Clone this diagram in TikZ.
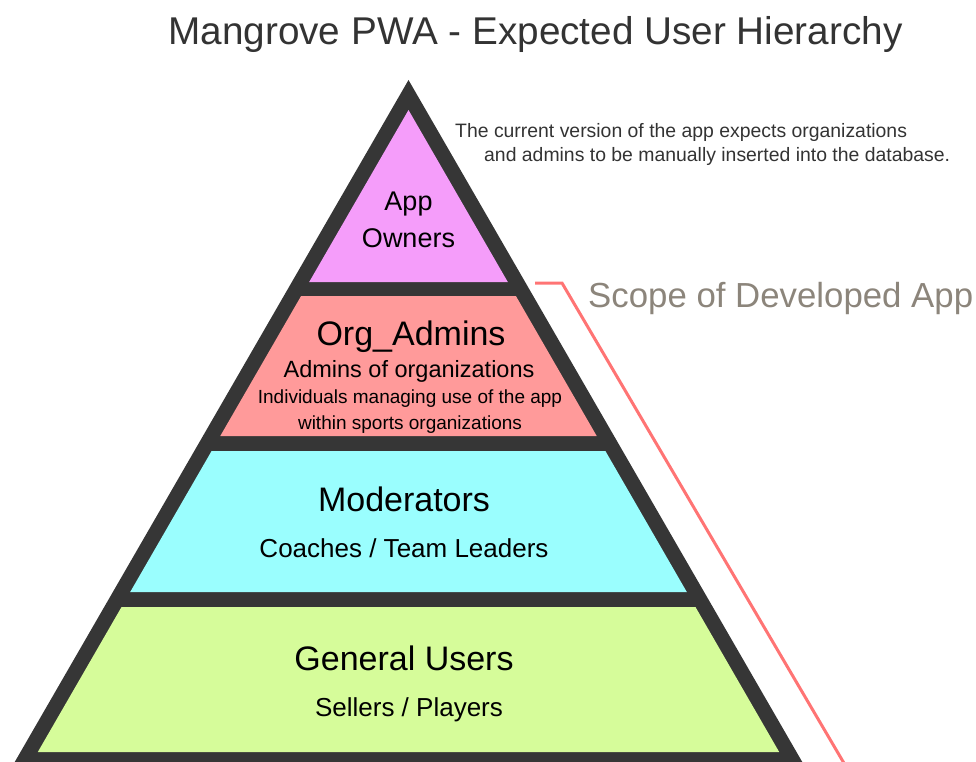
\documentclass[tikz,border=0pt]{standalone}
\usepackage{fontspec}
\setmainfont{Liberation Sans}
\usepackage{tikz}

\definecolor{frame}{HTML}{363636}
\definecolor{ownerpink}{HTML}{F59DFA}
\definecolor{adminred}{HTML}{FF9A9A}
\definecolor{modcyan}{HTML}{9AFEFE}
\definecolor{usergreen}{HTML}{D6FC9A}
\definecolor{scopered}{HTML}{FF7474}
\definecolor{scopegray}{HTML}{8C857B}
\definecolor{notegray}{HTML}{333333}

\tikzset{
  tiername/.style={anchor=base,font=\fontsize{34}{40}\selectfont},
  tiersub/.style={anchor=base,font=\fontsize{26}{30}\selectfont},
  tiersmall/.style={anchor=base,font=\fontsize{19}{24}\selectfont}
}

\begin{document}
\begin{tikzpicture}[x=1pt,y=-1pt]
\useasboundingbox (0,0) rectangle (976,762);
\node[anchor=base,text=notegray,font=\fontsize{38.7}{44}\selectfont] (title) at (535.5,45) {Mangrove PWA - Expected User Hierarchy};

% outer frame of the pyramid
\fill[frame] (408.5,80) -- ({408.5-687*0.5774},767) -- ({408.5+687*0.5774},767) -- cycle;
% tiers, inset by the frame width
\fill[ownerpink] (408.5,110) -- ({408.5-172*0.5774},282) -- ({408.5+172*0.5774},282) -- cycle;
\foreach \yt/\yb/\col in {296/436/adminred,451/592/modcyan,607/752/usergreen}
  \fill[\col] ({408.5-(\yt-110)*0.5774},\yt) -- ({408.5+(\yt-110)*0.5774},\yt)
    -- ({408.5+(\yb-110)*0.5774},\yb) -- ({408.5-(\yb-110)*0.5774},\yb) -- cycle;

\node[anchor=base,font=\fontsize{27}{30}\selectfont] (app) at (408.5,210) {App};
\node[anchor=base,font=\fontsize{27}{30}\selectfont] (owners) at (408.5,247) {Owners};

\node[tiername] (admins) at (411,345) {Org\_Admins};
\node[anchor=base,font=\fontsize{23.5}{28}\selectfont] (adminsub) at (409,377) {Admins of organizations};
\node[tiersmall] (admindesc) at (410,403) {Individuals managing use of the app};
\node[tiersmall] (admindesc2) at (410,429) {within sports organizations};

\node[tiername] (mods) at (404,511) {Moderators};
\node[tiersub] (modsub) at (404,557) {Coaches / Team Leaders};

\node[tiername] (users) at (404,670) {General Users};
\node[tiersub] (usersub) at (409,716) {Sellers / Players};

% note and scope bracket
\node[anchor=base west,align=left,text=notegray,font=\fontsize{19.4}{24}\selectfont,inner sep=0pt] (note) at (455,161)
  {The current version of the app expects organizations\\\hspace{29pt}and admins to be manually inserted into the database.};

\coordinate (scopestart) at (535,283);
\coordinate (scopecorner) at (562,283);
\coordinate (scopeend) at (848,770);
\draw[scopered,line width=3pt] (scopestart) -- (scopecorner) -- (scopeend);
\node[anchor=base west,inner sep=0pt,text=scopegray,font=\fontsize{34.8}{40}\selectfont] (scope) at (588,307) {Scope of Developed App};
\end{tikzpicture}
\end{document}
